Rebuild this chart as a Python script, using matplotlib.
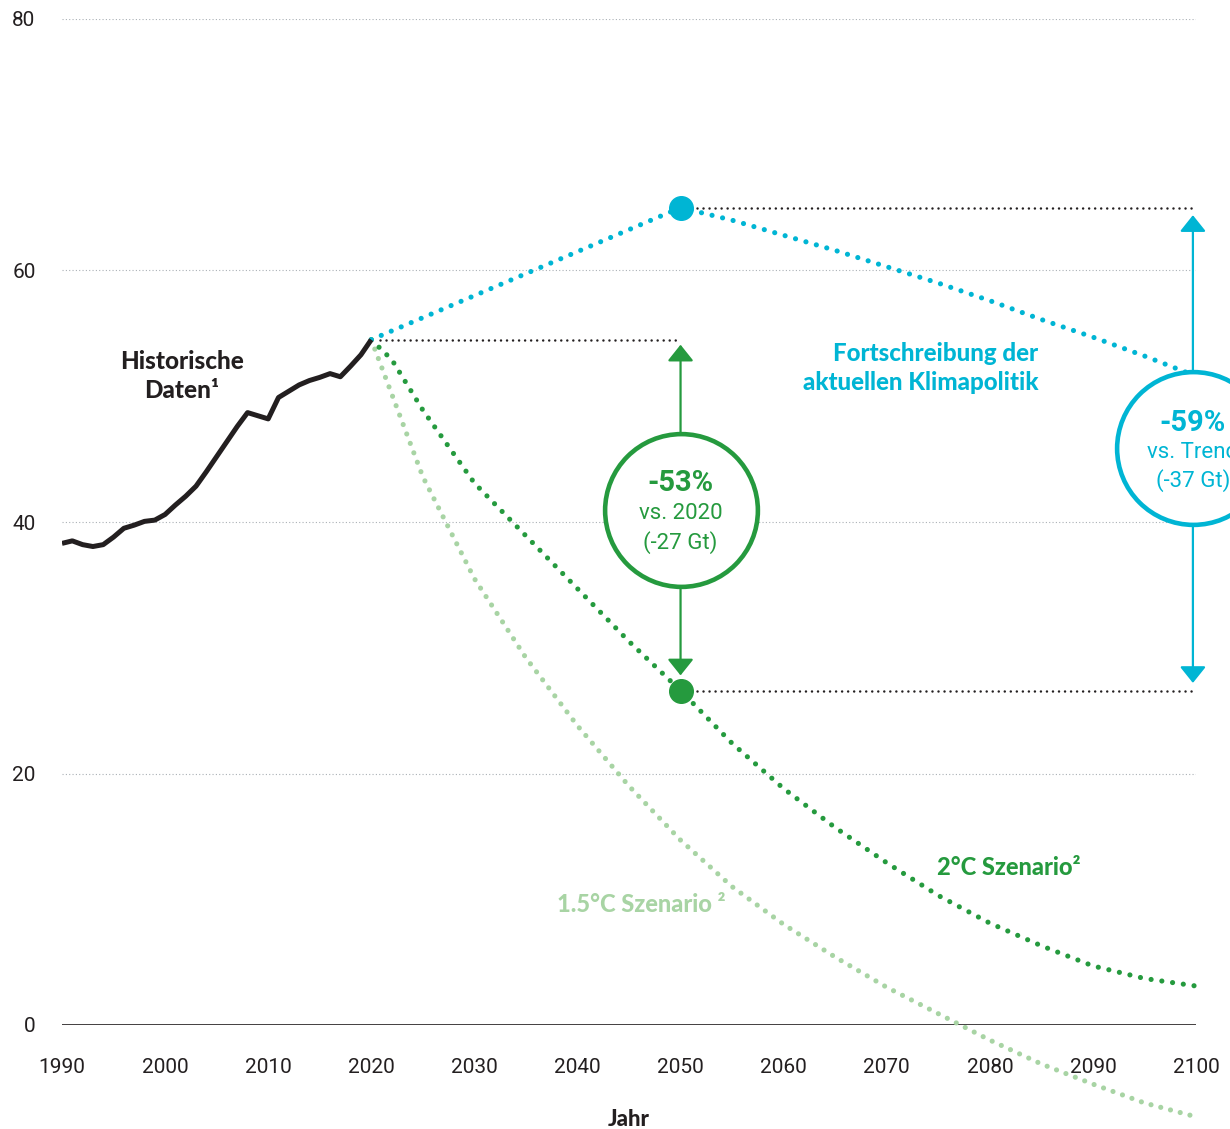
import numpy as np
import matplotlib.pyplot as plt

plt.rcParams['font.family'] = ['Roboto', 'DejaVu Sans']

# --- data (Gt CO2e) ---
hist_years = np.arange(1990, 2021)
hist_values = [38.3, 38.5, 38.2, 38.05, 38.2, 38.8, 39.5, 39.75, 40.05, 40.15,
               40.6, 41.35, 42.05, 42.85, 44.0, 45.2, 46.4, 47.6, 48.7, 48.45,
               48.2, 49.9, 50.4, 50.9, 51.25, 51.5, 51.8, 51.55, 52.4, 53.3, 54.5]

trend_years = [2020, 2050, 2055, 2060, 2065, 2070, 2075, 2080, 2085, 2090, 2095, 2100]
trend_values = [54.5, 65.0, 64.0, 62.8, 61.6, 60.3, 59.0, 57.6, 56.1, 54.7, 53.2, 51.6]

s2_years = [2020, 2022, 2025, 2030, 2035, 2040, 2045, 2050, 2055, 2060, 2065,
            2070, 2075, 2080, 2085, 2090, 2095, 2100]
s2_values = [54.5, 52.9, 48.9, 43.1, 38.9, 34.7, 30.5, 26.6, 22.4, 18.8, 15.7,
             12.9, 10.3, 8.1, 6.3, 4.7, 3.7, 3.1]

s15_years = [2020, 2025, 2030, 2035, 2040, 2045, 2050, 2055, 2060, 2065, 2070,
             2075, 2080, 2085, 2090, 2095, 2100]
s15_values = [54.5, 43.6, 35.5, 29.2, 23.8, 19.0, 14.7, 11.0, 8.0, 5.4, 3.0,
              0.9, -1.2, -3.1, -4.7, -6.2, -7.3]

ref_2020 = 54.5
ref_2050_trend = 65.0
ref_2050_s2 = 26.6

BLACK = '#231f20'
CYAN = '#00b5d4'
GREEN = '#259a3e'
LIGHT = '#a8d4a4'
BOLD = ['Lato', 'DejaVu Sans']
HEAVY = 900

fig = plt.figure(figsize=(12.3, 11.29), dpi=100)
ax = fig.add_axes([62 / 1230, 104 / 1129, 1134 / 1230, 1006 / 1129])
ax.set_xlim(1990, 2100)
ax.set_ylim(0, 80)

for s in ax.spines.values():
    s.set_visible(False)
ax.set_yticks([0, 20, 40, 60, 80])
ax.set_xticks(range(1990, 2101, 10))
ax.tick_params(length=0, labelsize=15, labelcolor=BLACK)
ax.tick_params(axis='x', pad=24)
ax.tick_params(axis='y', pad=19)
ax.grid(axis='y', color='#aab0b6', linestyle=(0, (1, 2)), linewidth=0.8)
ax.axhline(0, color=BLACK, linewidth=1.2, zorder=2)
ax.set_xlabel('Jahr', fontsize=16, fontweight=HEAVY, family=BOLD,
              color=BLACK, labelpad=23)

def dotted(x, y, color, lw, gap, z=3):
    ax.plot(x, y, color=color, linewidth=lw, linestyle=(0, (0.01, gap)),
            dash_capstyle='round', clip_on=False, zorder=z)

# reference lines
dotted([2020.8, 2050], [ref_2020, ref_2020], BLACK, 1.8, 2.4)
dotted([2051.6, 2100], [ref_2050_trend, ref_2050_trend], BLACK, 1.8, 2.4)
dotted([2051.6, 2100], [ref_2050_s2, ref_2050_s2], BLACK, 1.8, 2.4)

# scenarios
dotted(s15_years, s15_values, LIGHT, 3.7, 1.95)
dotted(s2_years, s2_values, GREEN, 3.7, 2.1)
dotted(trend_years, trend_values, CYAN, 3.7, 2.1)

ax.plot(hist_years, hist_values, color=BLACK, linewidth=3.6,
        solid_capstyle='butt', zorder=4)

ax.plot(2050, ref_2050_trend, 'o', color=CYAN, markersize=17, zorder=6)
ax.plot(2050, ref_2050_s2, 'o', color=GREEN, markersize=17, zorder=6)

# arrows and circles
ax.annotate('', xy=(2050, 54.1), xytext=(2050, 27.8),
            arrowprops=dict(arrowstyle='<|-|>,head_length=0.5,head_width=0.4',
                            color=GREEN, lw=1.6, shrinkA=0, shrinkB=0,
                            mutation_scale=20), zorder=5)
ax.annotate('', xy=(2099.7, 64.4), xytext=(2099.7, 27.2),
            arrowprops=dict(arrowstyle='<|-|>,head_length=0.5,head_width=0.4',
                            color=CYAN, lw=1.6, shrinkA=0, shrinkB=0,
                            mutation_scale=20), zorder=5, annotation_clip=False)

ax.plot(2050, 40.95, 'o', markersize=110, markerfacecolor='white',
        markeredgecolor=GREEN, markeredgewidth=3.3, zorder=7, clip_on=False)
ax.plot(2099.7, 45.9, 'o', markersize=110, markerfacecolor='white',
        markeredgecolor=CYAN, markeredgewidth=3.3, zorder=7, clip_on=False)

ax.text(2050, 43.1, '-53%', ha='center', va='center', fontsize=21,
        fontweight='bold', color=GREEN, zorder=8)
ax.text(2050, 40.7, 'vs. 2020', ha='center', va='center', fontsize=16,
        color=GREEN, zorder=8)
ax.text(2050, 38.4, '(-27 Gt)', ha='center', va='center', fontsize=16,
        color=GREEN, zorder=8)

# the trend circle runs off the right edge, as in the original
ax.text(2099.7, 47.9, '-59%', ha='center', va='center', fontsize=21,
        fontweight='bold', color=CYAN, zorder=8, clip_on=False)
ax.text(2099.7, 45.5, 'vs. Trend', ha='center', va='center', fontsize=16,
        color=CYAN, zorder=8, clip_on=False)
ax.text(2099.7, 43.3, '(-37 Gt)', ha='center', va='center', fontsize=16,
        color=CYAN, zorder=8, clip_on=False)

# labels
ax.text(2001.6, 51.6, 'Historische\nDaten¹', ha='center', va='center',
        fontsize=17.5, fontweight=HEAVY, family=BOLD, color=BLACK,
        linespacing=1.3)
ax.text(2084.7, 52.25, 'Fortschreibung der\naktuellen Klimapolitik',
        ha='right', va='center', fontsize=17.3, fontweight=HEAVY, family=BOLD,
        color=CYAN, linespacing=1.3)
ax.text(2074.9, 12.5, '2°C Szenario²', ha='left', va='center', fontsize=17,
        fontweight=HEAVY, family=BOLD, color=GREEN)
ax.text(2038.0, 9.55, '1.5°C Szenario ²', ha='left', va='center', fontsize=17,
        fontweight=HEAVY, family=BOLD, color=LIGHT)

fig.savefig('out.png', dpi=100)
